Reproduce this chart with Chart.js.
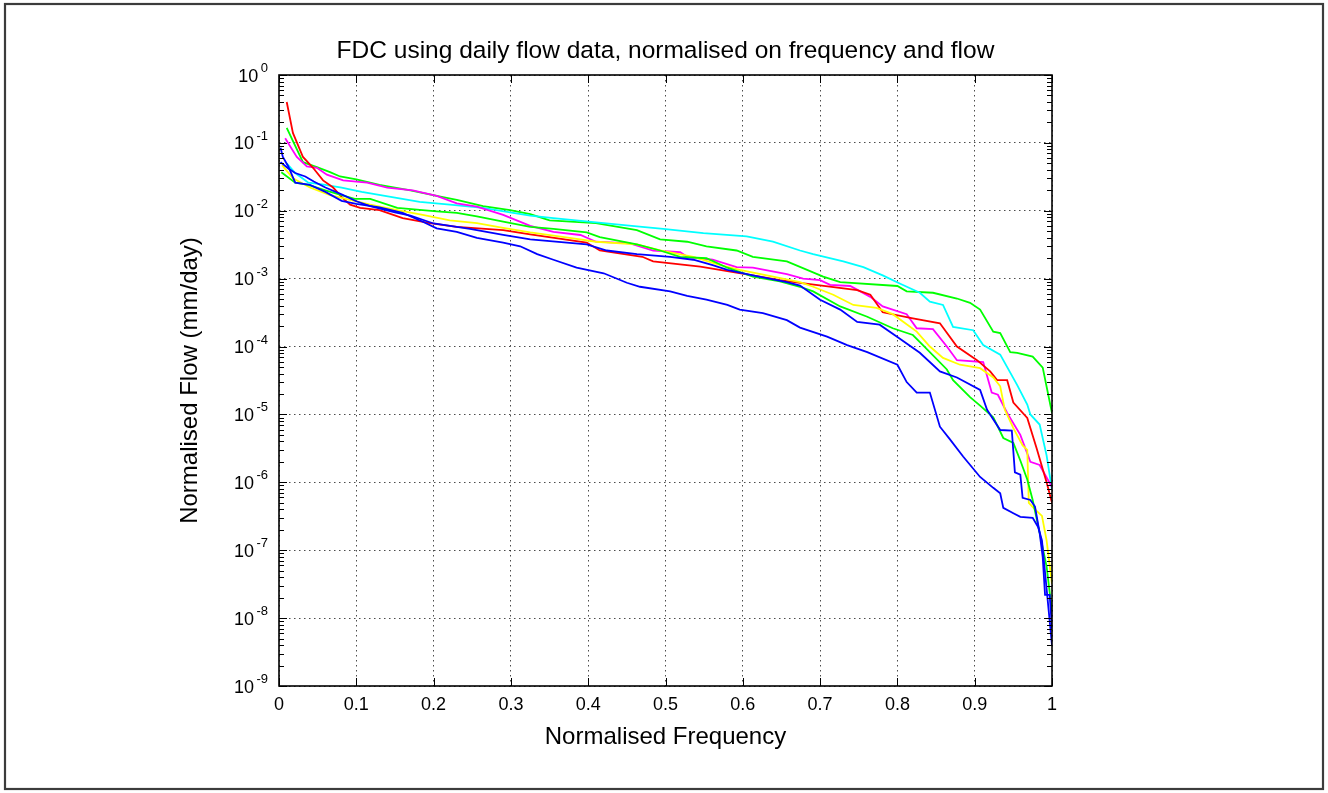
<!DOCTYPE html>
<html>
<head>
<meta charset="utf-8">
<title>FDC</title>
<script src="https://cdn.jsdelivr.net/npm/chart.js@4"></script>
<style>
  html, body { margin: 0; padding: 0; background: #fff; }
  #wrap { width: 1328px; height: 793px; }
</style>
</head>
<body>
<div id="wrap"><canvas id="fdc" width="1328" height="793"></canvas></div>
<script>
// FDC curves - normalised frequency vs normalised flow (log y)

const chartTitle = 'FDC using daily flow data, normalised on frequency and flow';
const yDecades = [1e-9, 1e-8, 1e-7, 1e-6, 1e-5, 1e-4, 1e-3, 1e-2, 1e-1, 1e0];
const yExponents = ['-9', '-8', '-7', '-6', '-5', '-4', '-3', '-2', '-1', '0'];

const redFreq = [0.01, 0.018, 0.031, 0.044, 0.057, 0.07, 0.082, 0.092, 0.105, 0.13, 0.16, 0.195, 0.23, 0.29, 0.325, 0.398, 0.415, 0.47, 0.484, 0.545, 0.613, 0.648, 0.674, 0.748, 0.765, 0.781, 0.82, 0.855, 0.877, 0.903, 0.92, 0.929, 0.942, 0.95, 0.968, 0.98, 0.993, 1.0];
const redFlow = [4.0e-1, 1.4e-1, 6.2e-2, 4.3e-2, 2.8e-2, 2.2e-2, 1.55e-2, 1.23e-2, 1.1e-2, 1.02e-2, 7.8e-3, 6.6e-3, 5.8e-3, 5.2e-3, 4.5e-3, 3.4e-3, 2.6e-3, 2.1e-3, 1.8e-3, 1.5e-3, 1.12e-3, 9.5e-4, 8.7e-4, 6.8e-4, 5.8e-4, 3.2e-4, 2.6e-4, 2.2e-4, 1.0e-4, 6.3e-5, 4.3e-5, 3.2e-5, 3.2e-5, 1.5e-5, 8.9e-6, 3.2e-6, 1.0e-6, 5.0e-7];

const greenAFreq = [0.01, 0.031, 0.049, 0.066, 0.079, 0.10, 0.13, 0.17, 0.204, 0.23, 0.264, 0.299, 0.325, 0.35, 0.41, 0.463, 0.493, 0.528, 0.553, 0.592, 0.613, 0.657, 0.704, 0.726, 0.80, 0.812, 0.846, 0.877, 0.894, 0.907, 0.924, 0.933, 0.946, 0.955, 0.975, 0.988, 1.0];
const greenAFlow = [1.66e-1, 5.2e-2, 4.4e-2, 3.7e-2, 3.2e-2, 2.9e-2, 2.4e-2, 2.0e-2, 1.66e-2, 1.45e-2, 1.17e-2, 1.02e-2, 8.9e-3, 7.2e-3, 6.6e-3, 5.2e-3, 3.8e-3, 3.5e-3, 3.0e-3, 2.6e-3, 2.1e-3, 1.8e-3, 1.07e-3, 8.9e-4, 7.8e-4, 6.5e-4, 6.2e-4, 5.1e-4, 4.4e-4, 3.5e-4, 1.66e-4, 1.58e-4, 8.3e-5, 8.1e-5, 7.1e-5, 4.9e-5, 1.05e-5];

const magentaFreq = [0.008, 0.023, 0.036, 0.049, 0.062, 0.083, 0.114, 0.14, 0.173, 0.204, 0.23, 0.256, 0.29, 0.325, 0.355, 0.39, 0.41, 0.454, 0.484, 0.519, 0.528, 0.561, 0.592, 0.613, 0.657, 0.678, 0.70, 0.713, 0.739, 0.765, 0.781, 0.812, 0.825, 0.846, 0.864, 0.877, 0.911, 0.922, 0.93, 0.942, 0.959, 0.972, 0.984, 1.0];
const magentaFlow = [1.17e-1, 6.2e-2, 4.5e-2, 4.3e-2, 3.4e-2, 2.8e-2, 2.6e-2, 2.2e-2, 2.0e-2, 1.66e-2, 1.29e-2, 1.15e-2, 8.7e-3, 6.0e-3, 4.9e-3, 4.4e-3, 3.5e-3, 3.3e-3, 2.6e-3, 2.45e-3, 2.1e-3, 1.9e-3, 1.48e-3, 1.45e-3, 1.17e-3, 1.0e-3, 9.5e-4, 8.1e-4, 7.8e-4, 5.4e-4, 3.9e-4, 3.0e-4, 1.86e-4, 1.8e-4, 1.0e-4, 6.3e-5, 5.9e-5, 2.1e-5, 1.95e-5, 1.05e-5, 5.0e-6, 2.0e-6, 1.8e-6, 8.5e-7];

const cyanFreq = [0.01, 0.021, 0.038, 0.056, 0.081, 0.107, 0.137, 0.182, 0.221, 0.264, 0.299, 0.325, 0.355, 0.42, 0.463, 0.497, 0.549, 0.605, 0.639, 0.674, 0.691, 0.73, 0.756, 0.781, 0.803, 0.829, 0.842, 0.859, 0.872, 0.898, 0.911, 0.933, 0.955, 0.968, 0.972, 0.984, 0.993, 1.0];
const cyanFlow = [5.0e-2, 3.6e-2, 2.6e-2, 2.45e-2, 2.2e-2, 1.9e-2, 1.66e-2, 1.35e-2, 1.23e-2, 1.1e-2, 9.5e-3, 8.5e-3, 7.8e-3, 6.6e-3, 5.9e-3, 5.4e-3, 4.7e-3, 4.2e-3, 3.5e-3, 2.6e-3, 2.3e-3, 1.8e-3, 1.48e-3, 1.12e-3, 8.5e-4, 6.2e-4, 4.6e-4, 4.1e-4, 1.95e-4, 1.74e-4, 1.05e-4, 7.6e-5, 2.7e-5, 1.4e-5, 1.0e-5, 7.1e-6, 2.5e-6, 7.8e-7];

const yellowFreq = [0.004, 0.018, 0.04, 0.066, 0.092, 0.118, 0.153, 0.186, 0.221, 0.256, 0.29, 0.325, 0.376, 0.41, 0.463, 0.493, 0.536, 0.571, 0.596, 0.639, 0.674, 0.691, 0.717, 0.743, 0.773, 0.794, 0.825, 0.842, 0.859, 0.881, 0.907, 0.924, 0.933, 0.939, 0.95, 0.962, 0.968, 0.970, 0.978, 0.987, 0.993, 1.0];
const yellowFlow = [4.7e-2, 3.0e-2, 2.2e-2, 1.7e-2, 1.45e-2, 1.23e-2, 1.02e-2, 8.7e-3, 7.2e-3, 6.6e-3, 5.6e-3, 4.8e-3, 4.0e-3, 3.5e-3, 3.2e-3, 2.6e-3, 2.1e-3, 1.58e-3, 1.35e-3, 1.07e-3, 8.9e-4, 7.6e-4, 5.8e-4, 4.1e-4, 3.7e-4, 3.0e-4, 1.66e-4, 1.0e-4, 6.8e-5, 5.4e-5, 4.8e-5, 3.5e-5, 2.6e-5, 1.17e-5, 6.3e-6, 3.5e-6, 3.0e-6, 5.0e-7, 4.0e-7, 3.2e-7, 1.4e-7, 3.2e-8];

const blueAFreq = [0.002, 0.005, 0.012, 0.021, 0.04, 0.06, 0.081, 0.10, 0.13, 0.16, 0.186, 0.204, 0.23, 0.256, 0.29, 0.312, 0.334, 0.355, 0.385, 0.42, 0.45, 0.467, 0.506, 0.528, 0.553, 0.58, 0.596, 0.626, 0.657, 0.674, 0.709, 0.735, 0.761, 0.80, 0.812, 0.825, 0.842, 0.855, 0.868, 0.885, 0.907, 0.924, 0.933, 0.937, 0.95, 0.959, 0.975, 0.982, 0.987, 0.991, 1.0];
const blueAFlow = [8.5e-2, 6.2e-2, 4.5e-2, 2.6e-2, 2.4e-2, 1.9e-2, 1.4e-2, 1.26e-2, 1.12e-2, 9.3e-3, 6.9e-3, 5.5e-3, 4.9e-3, 4.0e-3, 3.4e-3, 3.0e-3, 2.3e-3, 1.9e-3, 1.45e-3, 1.2e-3, 8.7e-4, 7.6e-4, 6.5e-4, 5.6e-4, 4.9e-4, 4.1e-4, 3.5e-4, 3.1e-4, 2.45e-4, 1.9e-4, 1.4e-4, 1.05e-4, 8.3e-5, 5.4e-5, 3.0e-5, 2.1e-5, 2.1e-5, 6.6e-6, 4.3e-6, 2.4e-6, 1.2e-6, 8.3e-7, 6.9e-7, 4.2e-7, 3.5e-7, 3.1e-7, 3.0e-7, 2.2e-7, 1.4e-7, 4.7e-8, 4.0e-9];

const blueBFreq = [0.002, 0.012, 0.021, 0.034, 0.045, 0.06, 0.081, 0.10, 0.118, 0.15, 0.17, 0.20, 0.247, 0.29, 0.325, 0.398, 0.424, 0.463, 0.506, 0.536, 0.561, 0.58, 0.613, 0.657, 0.674, 0.70, 0.726, 0.748, 0.777, 0.80, 0.829, 0.855, 0.877, 0.907, 0.916, 0.933, 0.948, 0.952, 0.959, 0.962, 0.972, 0.978, 0.984, 0.988, 0.991, 0.997, 1.0];
const blueBFlow = [5.2e-2, 4.2e-2, 3.6e-2, 3.2e-2, 2.7e-2, 2.2e-2, 1.74e-2, 1.38e-2, 1.17e-2, 9.5e-3, 8.5e-3, 6.5e-3, 5.4e-3, 4.4e-3, 3.8e-3, 3.2e-3, 2.6e-3, 2.3e-3, 2.1e-3, 1.9e-3, 1.58e-3, 1.35e-3, 1.12e-3, 8.9e-4, 7.9e-4, 4.9e-4, 3.5e-4, 2.3e-4, 2.1e-4, 1.38e-4, 8.1e-5, 4.3e-5, 3.5e-5, 2.3e-5, 1.17e-5, 5.9e-6, 5.8e-6, 1.4e-6, 1.3e-6, 5.9e-7, 5.5e-7, 4.4e-7, 1.8e-7, 7.9e-8, 2.2e-8, 2.2e-8, 7.0e-9];

const greenBFreq = [0.003, 0.021, 0.038, 0.06, 0.081, 0.098, 0.118, 0.153, 0.204, 0.23, 0.256, 0.29, 0.325, 0.355, 0.398, 0.415, 0.463, 0.493, 0.519, 0.553, 0.58, 0.613, 0.648, 0.674, 0.691, 0.726, 0.761, 0.794, 0.82, 0.833, 0.864, 0.872, 0.894, 0.907, 0.924, 0.937, 0.95, 0.959, 0.968, 0.975, 0.984, 0.993, 1.0];
const greenBFlow = [3.7e-2, 2.6e-2, 2.4e-2, 2.0e-2, 1.7e-2, 1.5e-2, 1.5e-2, 1.1e-2, 9.8e-3, 9.3e-3, 8.3e-3, 6.9e-3, 5.8e-3, 5.4e-3, 4.8e-3, 4.1e-3, 3.2e-3, 2.6e-3, 2.1e-3, 2.0e-3, 1.45e-3, 1.07e-3, 9.1e-4, 7.6e-4, 6.5e-4, 3.9e-4, 2.75e-4, 1.86e-4, 1.48e-4, 1.05e-4, 4.6e-5, 3.2e-5, 1.8e-5, 1.35e-5, 9.1e-6, 4.5e-6, 3.8e-6, 2.1e-6, 1.1e-6, 5.5e-7, 1.8e-7, 5.8e-8, 1.25e-8];

const FONT = '"Liberation Sans", Arial, Helvetica, sans-serif';
Chart.defaults.font.family = FONT;
Chart.defaults.color = '#000';

function series(freq, flow, color) {
    return {
        data: freq.map((f, i) => ({ x: f, y: flow[i] })),
        borderColor: color,
        backgroundColor: color,
        borderWidth: 1.8,
        pointRadius: 0,
        tension: 0,
        fill: false
    };
}

// white page, grey frame, axis box, inward ticks, 10^n labels, title over plot box
const matlabAxes = {
    id: 'matlabAxes',
    beforeDraw(chart) {
        const ctx = chart.ctx;
        ctx.save();
        ctx.fillStyle = '#fff';
        ctx.fillRect(0, 0, chart.width, chart.height);
        ctx.strokeStyle = '#3c3c3c';
        ctx.lineWidth = 2.2;
        ctx.strokeRect(5, 4, 1318, 785);
        ctx.restore();
    },
    afterDraw(chart) {
        const ctx = chart.ctx;
        const { left, right, top, bottom } = chart.chartArea;
        const xs = chart.scales.x, ys = chart.scales.y;
        ctx.save();
        ctx.strokeStyle = '#000';
        ctx.lineWidth = 1;
        ctx.beginPath();
        xs.ticks.forEach(t => {
            const px = Math.round(xs.getPixelForValue(t.value)) + 0.5;
            ctx.moveTo(px, bottom); ctx.lineTo(px, bottom - 8);
            ctx.moveTo(px, top); ctx.lineTo(px, top + 8);
        });
        yDecades.forEach((d, k) => {
            const py = Math.round(ys.getPixelForValue(d)) + 0.5;
            ctx.moveTo(left, py); ctx.lineTo(left + 8, py);
            ctx.moveTo(right, py); ctx.lineTo(right - 8, py);
            if (k < yDecades.length - 1) {
                for (let m = 2; m <= 9; m++) {
                    const pm = Math.round(ys.getPixelForValue(d * m)) + 0.5;
                    ctx.moveTo(left, pm); ctx.lineTo(left + 5, pm);
                    ctx.moveTo(right, pm); ctx.lineTo(right - 5, pm);
                }
            }
        });
        ctx.stroke();
        ctx.lineWidth = 1.6;
        ctx.strokeRect(left, top, right - left, bottom - top);

        ctx.fillStyle = '#000';
        ctx.textBaseline = 'alphabetic';
        ctx.textAlign = 'left';
        yDecades.forEach((d, k) => {
            const py = ys.getPixelForValue(d);
            ctx.font = '13px ' + FONT;
            const ew = ctx.measureText(yExponents[k]).width;
            ctx.font = '18px ' + FONT;
            const bw = ctx.measureText('10').width;
            const xr = left - 11;
            ctx.fillText('10', xr - ew - 2.5 - bw, py + 6.5);
            ctx.font = '13px ' + FONT;
            ctx.fillText(yExponents[k], xr - ew, py - 3);
        });

        ctx.font = '24.5px ' + FONT;
        ctx.textAlign = 'center';
        ctx.textBaseline = 'middle';
        ctx.fillText(chartTitle, (left + right) / 2, top - 24);
        ctx.restore();
    }
};

new Chart(document.getElementById('fdc'), {
    type: 'line',
    data: {
        datasets: [
            series(blueAFreq, blueAFlow, '#0000FF'),
            series(blueBFreq, blueBFlow, '#0000FF'),
            series(greenBFreq, greenBFlow, '#00FF00'),
            series(yellowFreq, yellowFlow, '#FFFF00'),
            series(redFreq, redFlow, '#FF0000'),
            series(magentaFreq, magentaFlow, '#FF00FF'),
            series(cyanFreq, cyanFlow, '#00FFFF'),
            series(greenAFreq, greenAFlow, '#00FF00')
        ]
    },
    options: {
        responsive: false,
        animation: false,
        events: [],
        layout: { padding: { left: 0, right: 276, top: 75, bottom: 0 } },
        plugins: {
            legend: { display: false },
            tooltip: { enabled: false },
            title: { display: false }
        },
        scales: {
            x: {
                type: 'linear',
                min: 0,
                max: 1,
                ticks: {
                    stepSize: 0.1,
                    color: '#000',
                    font: { size: 18 },
                    padding: 8,
                    maxRotation: 0,
                    callback: v => String(+v.toFixed(1))
                },
                grid: { color: 'rgba(0,0,0,0.7)', lineWidth: 1, drawTicks: false },
                border: { display: false, dash: [1.5, 3.5] },
                title: {
                    display: true,
                    text: 'Normalised Frequency',
                    color: '#000',
                    font: { size: 24 },
                    padding: { top: 0, bottom: 41.6 }
                },
                afterFit: s => { s.height = 107; }
            },
            y: {
                type: 'logarithmic',
                min: 1e-9,
                max: 1,
                afterBuildTicks: s => { s.ticks = yDecades.map(v => ({ value: v })); },
                ticks: { display: false },
                grid: { color: 'rgba(0,0,0,0.7)', lineWidth: 1, drawTicks: false },
                border: { display: false, dash: [1.5, 3.5] },
                title: {
                    display: true,
                    text: 'Normalised Flow (mm/day)',
                    color: '#000',
                    font: { size: 24 },
                    padding: { top: 175.6, bottom: 0 }
                },
                afterFit: s => { s.width = 279; }
            }
        }
    },
    plugins: [matlabAxes]
});
</script>
</body>
</html>
